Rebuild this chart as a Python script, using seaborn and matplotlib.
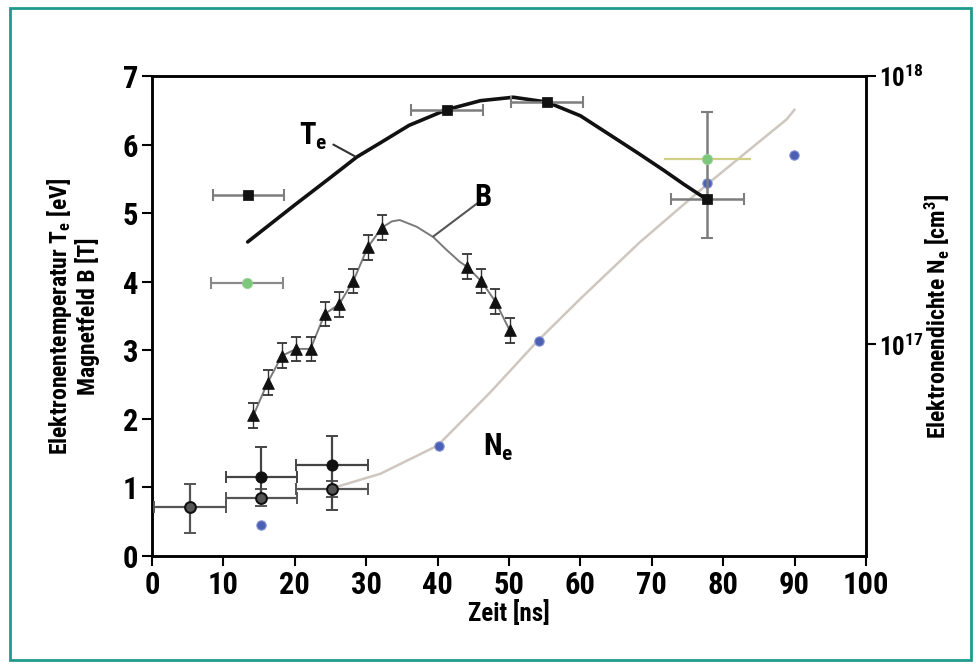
import os
import dataclasses
import numpy as np
import pandas as pd
import matplotlib
matplotlib.use("Agg")
import matplotlib.pyplot as plt
import matplotlib.font_manager as fm
import seaborn as sns
from matplotlib.patches import Rectangle

# ---------------- data ----------------
# electron temperature T_e (black squares)
te_time = [13.5, 41.3, 55.3, 77.8]
te_vals = [5.26, 6.51, 6.62, 5.20]
te_xerr = [5.0, 5.0, 5.0, 5.1]
te_yerr_lo = [0.0, 0.0, 0.0, 0.56]
te_yerr_hi = [0.0, 0.0, 0.0, 1.27]

# T_e guide curve (thick black)
te_curve_x = [13.4, 20.0, 25.0, 28.7, 31.9, 36.0, 41.3, 46.0, 50.6, 55.3, 60.0, 64.6, 68.0, 71.6, 74.5, 77.7]
te_curve_y = [4.58, 5.12, 5.52, 5.82, 6.02, 6.28, 6.51, 6.64, 6.69, 6.62, 6.42, 6.11, 5.88, 5.63, 5.42, 5.20]

# green points
green_time = [13.3, 77.8]
green_vals = [3.98, 5.79]
green_xerr = [5.0, 6.1]

# magnetic field B (black triangles)
b_time = [14.2, 16.2, 18.2, 20.2, 22.2, 24.2, 26.2, 28.2, 30.2, 32.2, 44.1, 46.1, 48.1, 50.1]
b_vals = [2.05, 2.53, 2.92, 3.02, 3.02, 3.53, 3.67, 4.01, 4.50, 4.79, 4.22, 4.01, 3.71, 3.29]
b_err = 0.18

# B guide curve (thin gray)
b_curve_x = [14.2, 16.2, 18.2, 20.2, 22.2, 24.2, 26.2, 28.2, 30.2, 32.2, 33.6, 34.7, 37.1, 39.4, 41.3, 43.1, 44.1, 46.1, 48.1, 50.1]
b_curve_y = [2.05, 2.53, 2.92, 3.02, 3.02, 3.53, 3.67, 4.01, 4.50, 4.79, 4.88, 4.90, 4.80, 4.65, 4.46, 4.29, 4.22, 4.01, 3.71, 3.29]

# low points (black circles) - open-ish and filled
low_open_time = [5.3, 15.3, 25.2]
low_open_vals = [0.71, 0.85, 0.98]
low_open_xerr = [5.0, 5.0, 5.0]
low_open_yerr_lo = [0.38, 0.12, 0.12]
low_open_yerr_hi = [0.34, 0.12, 0.12]

low_fill_time = [15.3, 25.2]
low_fill_vals = [1.15, 1.33]
low_fill_xerr = [5.0, 5.1]
low_fill_yerr_lo = [0.30, 0.66]
low_fill_yerr_hi = [0.44, 0.42]

# electron density N_e (blue points, right log axis)
ne_time = [15.3, 40.2, 54.2, 77.7, 89.9]
ne_vals = [2.12e16, 4.19e16, 1.03e17, 3.98e17, 5.10e17]

# N_e guide curve
ne_curve_x = [25.9, 32.0, 40.0, 47.3, 54.0, 60.0, 68.3, 78.0, 88.9, 90.0]
ne_curve_y = [2.95e16, 3.30e16, 4.20e16, 6.60e16, 1.03e17, 1.48e17, 2.40e17, 4.00e17, 6.9e17, 7.5e17]

x_ticks = [0, 10, 20, 30, 40, 50, 60, 70, 80, 90, 100]
y_ticks = [0, 1, 2, 3, 4, 5, 6, 7]
ne_ticks = [1e17, 1e18]
ne_tick_labels = [r"$\mathregular{10^{17}}$", r"$\mathregular{10^{18}}$"]

# ---------------- style ----------------
sns.set_style("ticks")

# pick a narrow bold sans font (extra-condensed preferred, never monospace)
entries = list(fm.fontManager.ttflist)
wanted = ["NotoSans-ExtraCondensedBold.ttf", "NotoSans-CondensedBold.ttf",
          "LiberationSansNarrow-Bold.ttf", "RobotoCondensed-Bold.ttf",
          "DejaVuSansCondensed-Bold.ttf"]
pick = None
for w in wanted:
    for f in entries:
        if os.path.basename(f.fname) == w:
            pick = f
            break
    if pick:
        break

family = ["DejaVu Sans"]
stretch = "normal"
if pick is not None:
    fm.fontManager.ttflist.append(dataclasses.replace(pick, name="NarrowPick", stretch="normal"))
    family = ["NarrowPick", "DejaVu Sans"]
else:
    for f in entries:
        if f.name == "Noto Sans" and f.stretch == "condensed":
            family = ["Noto Sans", "DejaVu Sans"]
            stretch = "condensed"
            break

plt.rcParams["font.family"] = family
plt.rcParams["font.stretch"] = stretch
plt.rcParams["font.weight"] = "bold"
plt.rcParams["axes.labelweight"] = "bold"
plt.rcParams["mathtext.default"] = "regular"
plt.rcParams["axes.edgecolor"] = "black"
plt.rcParams["text.color"] = "black"
plt.rcParams["axes.labelcolor"] = "black"
plt.rcParams["xtick.color"] = "black"
plt.rcParams["ytick.color"] = "black"

FS_TICK = 22
FS_TICK_R = 18
FS_LAB = 17
FS_ANN = 22

fig = plt.figure(figsize=(9.76, 6.67), dpi=100)
fig.patch.set_facecolor("white")
fig.patches.append(Rectangle((10 / 976, 7 / 667), 961 / 976, 652 / 667,
                             transform=fig.transFigure, fill=False,
                             edgecolor="#1f9a8c", linewidth=2.0))

ax = fig.add_axes([152 / 976, 1 - 556 / 667, 714 / 976, 480 / 667])
ax2 = ax.twinx()
ax.set_zorder(ax2.get_zorder() + 1)
ax.patch.set_visible(False)

# ---- right axis: N_e ----
ne_curve = pd.DataFrame({"t": ne_curve_x, "n": ne_curve_y})
sns.lineplot(data=ne_curve, x="t", y="n", ax=ax2, color="#cfc7bf", linewidth=1.8, sort=False)
ne_df = pd.DataFrame({"t": ne_time, "n": ne_vals})
sns.scatterplot(data=ne_df, x="t", y="n", ax=ax2, color="#4b5fb5", s=45,
                edgecolor="#8090d0", linewidth=0.8, zorder=5)
ax2.set_yscale("log")
ax2.set_ylim(10 ** 16.212, 1e18)
ax2.set_yticks(ne_ticks)
ax2.set_yticklabels(ne_tick_labels)
ax2.yaxis.set_minor_locator(matplotlib.ticker.NullLocator())
ax2.set_ylabel(r"Elektronendichte N$_\mathregular{e}$ [cm$^\mathregular{3}$]", fontsize=FS_LAB,
               fontweight="bold", rotation=90)
ax2.yaxis.set_label_coords(1.080, 0.5)
ax2.tick_params(axis="y", direction="out", length=7, width=1.5, labelsize=FS_TICK_R, pad=2)

# ---- left axis: T_e, B ----
te_curve = pd.DataFrame({"t": te_curve_x, "v": te_curve_y})
sns.lineplot(data=te_curve, x="t", y="v", ax=ax, color="#111111", linewidth=2.6, sort=False)

b_curve = pd.DataFrame({"t": b_curve_x, "v": b_curve_y})
sns.lineplot(data=b_curve, x="t", y="v", ax=ax, color="#7a7a7a", linewidth=1.4, sort=False)

# error bars
ax.errorbar(te_time, te_vals, xerr=te_xerr, yerr=[te_yerr_lo, te_yerr_hi], fmt="none",
            ecolor="#7d7d7d", elinewidth=1.8, capsize=4, capthick=1.5, zorder=3)
ax.errorbar(green_time[:1], green_vals[:1], xerr=green_xerr[:1], fmt="none",
            ecolor="#8a8a8a", elinewidth=1.6, capsize=4, capthick=1.5, zorder=3)
ax.errorbar(green_time[1:], green_vals[1:], xerr=green_xerr[1:], fmt="none",
            ecolor="#cfcf85", elinewidth=1.6, capsize=0, zorder=3)
ax.errorbar(b_time, b_vals, yerr=b_err, fmt="none", ecolor="#333333",
            elinewidth=1.0, capsize=3.5, capthick=1.3, zorder=3)
ax.errorbar(low_open_time, low_open_vals, xerr=low_open_xerr,
            yerr=[low_open_yerr_lo, low_open_yerr_hi], fmt="none", ecolor="#555555",
            elinewidth=1.6, capsize=4, capthick=1.4, zorder=3)
ax.errorbar(low_fill_time, low_fill_vals, xerr=low_fill_xerr,
            yerr=[low_fill_yerr_lo, low_fill_yerr_hi], fmt="none", ecolor="#444444",
            elinewidth=1.6, capsize=4, capthick=1.4, zorder=3)

# markers
sns.scatterplot(x=te_time, y=te_vals, ax=ax, marker="s", color="#111111", s=45,
                edgecolor="#111111", zorder=6)
sns.scatterplot(x=green_time, y=green_vals, ax=ax, marker="o", color="#7cc77c", s=55,
                edgecolor="#9ad49a", linewidth=0.6, zorder=6)
sns.scatterplot(x=b_time, y=b_vals, ax=ax, marker="^", color="#111111", s=70,
                edgecolor="#111111", zorder=6)
sns.scatterplot(x=low_open_time, y=low_open_vals, ax=ax, marker="o", color="#555555", s=60,
                edgecolor="#111111", linewidth=1.5, zorder=6)
sns.scatterplot(x=low_fill_time, y=low_fill_vals, ax=ax, marker="o", color="#111111", s=65,
                edgecolor="#111111", zorder=6)

# annotations
ax.text(24.6, 6.12, r"T$_\mathregular{e}$", fontsize=FS_ANN, fontweight="bold", ha="right", va="center")
ax.plot([25.4, 28.4], [6.00, 5.83], color="#333333", linewidth=1.5)
ax.text(46.4, 5.23, "B", fontsize=FS_ANN, fontweight="bold", ha="center", va="center")
ax.plot([45.9, 39.4], [5.17, 4.66], color="#555555", linewidth=1.5)
ax.text(48.5, 1.59, r"N$_\mathregular{e}$", fontsize=FS_ANN, fontweight="bold", ha="center", va="center")

ax.set_xlim(0, 100)
ax.set_ylim(0, 7)
ax.set_xticks(x_ticks)
ax.set_yticks(y_ticks)
ax.tick_params(axis="both", direction="out", length=7, width=1.5, labelsize=FS_TICK, pad=3)
ax.set_xlabel("Zeit [ns]", fontsize=FS_LAB + 1, fontweight="bold")
ax.xaxis.set_label_coords(0.5, -0.092)
ax.set_ylabel("Elektronentemperatur T$_\\mathregular{e}$ [eV]\nMagnetfeld B [T]", fontsize=FS_LAB,
              fontweight="bold", linespacing=1.05, multialignment="center")
ax.yaxis.set_label_coords(-0.073, 0.5)
ax2.set_xlabel("")

for a in (ax, ax2):
    for sp in a.spines.values():
        sp.set_visible(True)
        sp.set_linewidth(1.8)
        sp.set_color("black")

fig.savefig("out.png", dpi=100)
